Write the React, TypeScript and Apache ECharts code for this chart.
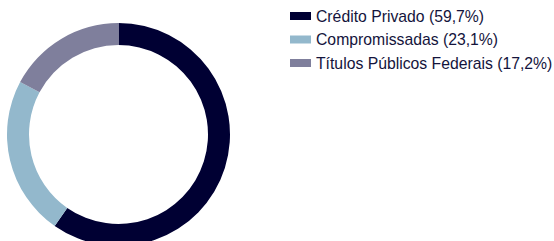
import React, { useEffect, useRef } from "react";
import * as echarts from "echarts";

const categories = ["Crédito Privado", "Compromissadas", "Títulos Públicos Federais"];
const values = [59.7, 23.1, 17.2];
const colors = ["#000033", "#93b8cc", "#7f7f9c"];

export default function App() {
  const ref = useRef<HTMLDivElement>(null);
  useEffect(() => {
    document.body.style.margin = "0";
    const chart = echarts.init(ref.current!, null, { renderer: "svg" });
    const fmt = (v: number) => v.toFixed(1).replace(".", ",");
    chart.setOption({
      animation: false,
      color: colors,
      legend: {
        orient: "vertical",
        left: 290,
        top: 8,
        padding: 0,
        itemWidth: 21,
        itemHeight: 8,
        itemGap: 7.5,
        icon: "rect",
        selectedMode: false,
        formatter: (name: string) => {
          const i = categories.indexOf(name);
          return `${name} (${fmt(values[i])}%)`;
        },
        textStyle: {
          fontFamily: "'Liberation Sans'",
          fontSize: 15.75,
          lineHeight: 16,
          color: "#14143c",
          padding: [0, 0, 0, 0],
        },
      },
      series: [
        {
          type: "pie",
          center: [118.5, 134.5],
          radius: [89.5, 111.5],
          startAngle: 90,
          clockwise: true,
          label: { show: false },
          labelLine: { show: false },
          emphasis: { disabled: true },
          itemStyle: { borderWidth: 0 },
          data: categories.map((c, i) => ({ name: c, value: values[i] })),
        },
      ],
    });
    return () => chart.dispose();
  }, []);
  return <div ref={ref} style={{ width: 554, height: 241 }} />;
}
